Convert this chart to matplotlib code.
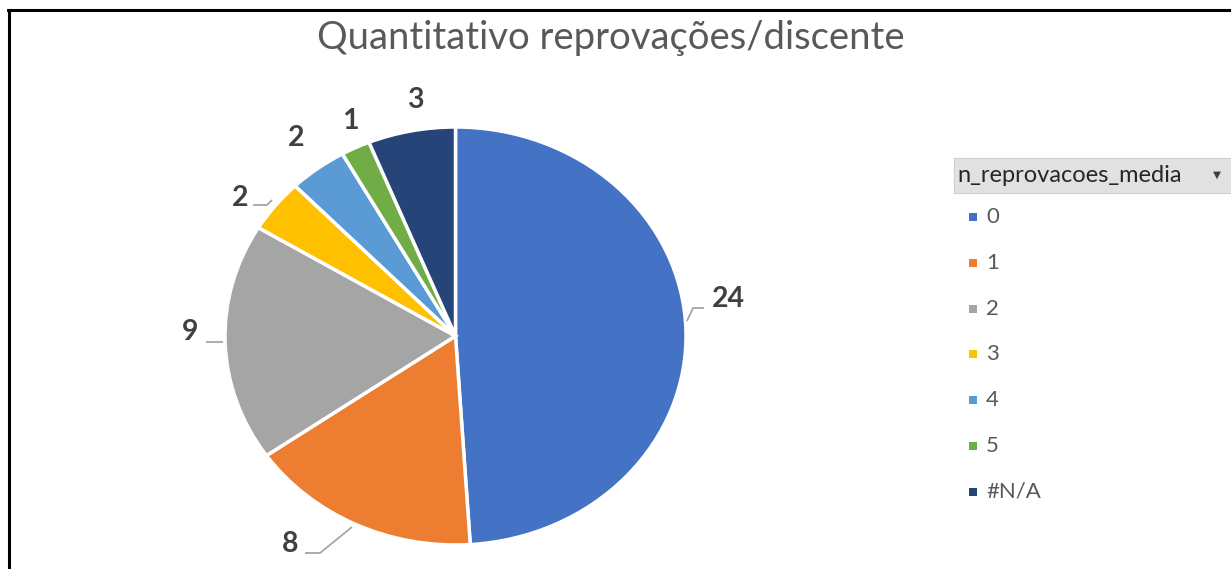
import matplotlib
matplotlib.use("Agg")
import matplotlib.pyplot as plt
from matplotlib.patches import Rectangle
from matplotlib.lines import Line2D
import numpy as np

# ---- data ----
title = "Quantitativo reprovações/discente"
legend_title = "n_reprovacoes_media"
categories = ["0", "1", "2", "3", "4", "5", "#N/A"]
values = [24, 8, 9, 2, 2, 1, 3]
colors = ["#4472C4", "#ED7D31", "#A5A5A5", "#FFC000", "#5B9BD5", "#70AD47", "#264478"]

FONT = "Lato"
W, H = 1231, 569
fig = plt.figure(figsize=(W / 100, H / 100), dpi=100)
fig.patch.set_facecolor("white")

def fx(px):
    return px / W

def fy(py):
    return 1 - py / H

# frame (left and top lines)
fig.add_artist(Line2D([fx(9), fx(9)], [fy(10), fy(H + 5)], color="black", lw=2.2,
                      transform=fig.transFigure))
fig.add_artist(Line2D([fx(8), fx(W + 5)], [fy(10), fy(10)], color="black", lw=2.2,
                      transform=fig.transFigure))

# title
fig.text(fx(611), fy(38), title, ha="center", va="center", fontsize=27.5,
         color="#595959", family=FONT)

# pie axes (slightly elliptical like the reference)
cx, cy, rx, ry = 455.5, 336, 230.5, 209
ax = fig.add_axes([fx(cx - rx), fy(cy + ry), 2 * rx / W, 2 * ry / H])
wedges, _ = ax.pie(values, colors=colors, startangle=90, counterclock=False,
                   wedgeprops=dict(edgecolor="white", linewidth=2.5))
ax.set_aspect("auto")
ax.set_xlim(-1, 1)
ax.set_ylim(-1, 1)
ax.axis("off")

def dx(px):
    return (px - cx) / rx

def dy(py):
    return (cy - py) / ry

# data label positions (pixel centres of label text)
label_pos = [(728, 299), (290, 544), (190, 332), (240, 198), (296, 138), (350, 121), (415, 100)]
for v, (px, py) in zip(values, label_pos):
    ax.text(dx(px), dy(py), str(v), ha="center", va="center", fontsize=20.5,
            fontweight="bold", color="#404040", family=FONT, clip_on=False)

# leader lines
leaders = [
    [(687, 321), (693, 308), (704, 308)],
    [(305, 553), (320, 553), (352, 527)],
    [(206, 342), (223, 342)],
    [(253, 205), (267, 205), (272, 200)],
]
for pts in leaders:
    xs = [dx(p[0]) for p in pts]
    ys = [dy(p[1]) for p in pts]
    ax.plot(xs, ys, color="#A6A6A6", lw=1.3, clip_on=False, solid_capstyle="butt")

# legend header band
fig.add_artist(Rectangle((fx(954), fy(193)), fx(W) - fx(954), fy(158) - fy(193),
                         transform=fig.transFigure, facecolor="#E1E1E1",
                         edgecolor="#CFCFCF", lw=0.8))
fig.text(fx(957), fy(176), legend_title, ha="left", va="center", fontsize=17,
         color="#262626", family=FONT)
fig.text(fx(1217), fy(175), "\u25BC", ha="center", va="center", fontsize=7.5,
         color="#404040", family="DejaVu Sans")

# legend entries
y0, step = 217, 45.8
for i, (lab, c) in enumerate(zip(categories, colors)):
    yy = y0 + i * step
    fig.add_artist(Rectangle((fx(969), fy(yy + 4)), 8 / W, 8 / H,
                             transform=fig.transFigure, facecolor=c, edgecolor="none"))
    fig.text(fx(986), fy(yy), lab, ha="left", va="center", fontsize=16,
             color="#595959", family=FONT)

fig.savefig("out.png", dpi=100)
